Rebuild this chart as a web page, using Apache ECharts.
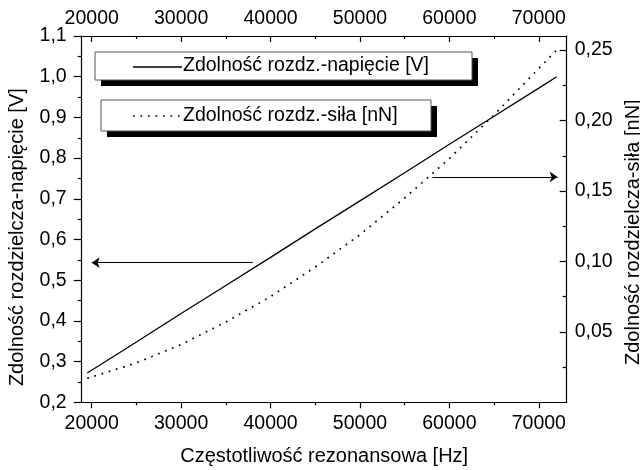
<!DOCTYPE html>
<html>
<head>
<meta charset="utf-8">
<script src="https://cdn.jsdelivr.net/npm/echarts@6/dist/echarts.min.js"></script>
<style>
  html, body { margin: 0; padding: 0; background: #fff; }
  #chart { width: 640px; height: 470px; }
</style>
</head>
<body>
<div id="chart"></div>
<script>
// Resonant frequency [Hz]
const freq = [19500, 25000, 30000, 35000, 40000, 45000, 50000, 55000, 60000, 65000, 70000, 72000];
// Resolution expressed as voltage [V] (left axis)
const voltage = [0.272, 0.348, 0.418, 0.487, 0.556, 0.626, 0.695, 0.764, 0.834, 0.903, 0.972, 1.000];
// Resolution expressed as force [nN] (right axis)
const force = [0.017, 0.028, 0.041, 0.057, 0.075, 0.096, 0.119, 0.145, 0.173, 0.204, 0.237, 0.250];

// Axis ranges and tick positions
const freqRange = [18880, 73120];
const freqTicks = [20000, 30000, 40000, 50000, 60000, 70000];
const freqMinorTicks = [25000, 35000, 45000, 55000, 65000];
const voltRange = [0.2, 1.1];
const voltTicks = [0.2, 0.3, 0.4, 0.5, 0.6, 0.7, 0.8, 0.9, 1.0, 1.1];
const voltMinorTicks = [0.25, 0.35, 0.45, 0.55, 0.65, 0.75, 0.85, 0.95, 1.05];
const forceRange = [0, 0.26];
const forceTicks = [0.05, 0.10, 0.15, 0.20, 0.25];
const forceMinorTicks = [0.025, 0.075, 0.125, 0.175, 0.225];

// Arrows pointing each curve to its axis
const voltArrow = { from: [38000, 0.543], to: [20000, 0.543] };
const forceArrow = { from: [58100, 0.160], to: [72100, 0.160] };

const nameV = 'Zdolność rozdz.-napięcie [V]';
const nameF = 'Zdolność rozdz.-siła [nN]';

const FONT = 'Liberation Sans, Arial, Helvetica, sans-serif';
const FS = 19.5;
const black = '#000';

function pairs(xs, ys) { return xs.map((x, i) => [x, ys[i]]); }
const comma = d => v => v.toFixed(d).replace('.', ',');
const plain = v => String(Math.round(v));

function xAxisDef(position, ticks, len, inside, withLabels, margin) {
  return {
    type: 'value', position, min: freqRange[0], max: freqRange[1],
    splitLine: { show: false },
    axisLine: { show: withLabels, onZero: false, lineStyle: { color: black, width: 1.2 } },
    axisTick: { show: true, inside, length: len, customValues: ticks, lineStyle: { color: black, width: 1.2 } },
    axisLabel: withLabels ? {
      show: true, customValues: ticks, margin, color: black, fontFamily: FONT, fontSize: FS,
      formatter: plain
    } : { show: false }
  };
}

function yAxisDef(position, range, ticks, len, inside, withLabels, margin, digits) {
  return {
    type: 'value', position, min: range[0], max: range[1],
    splitLine: { show: false },
    axisLine: { show: withLabels, onZero: false, lineStyle: { color: black, width: 1.2 } },
    axisTick: { show: true, inside, length: len, customValues: ticks, lineStyle: { color: black, width: 1.2 } },
    axisLabel: withLabels ? {
      show: true, customValues: ticks, margin, color: black, fontFamily: FONT, fontSize: FS,
      formatter: comma(digits)
    } : { show: false }
  };
}

const xBottom = xAxisDef('bottom', freqTicks, 6, false, true, 11);
xBottom.name = 'Częstotliwość rezonansowa [Hz]';
xBottom.nameLocation = 'middle';
xBottom.nameGap = 44;
xBottom.nameTextStyle = { color: black, fontFamily: FONT, fontSize: 20 };

const yLeft = yAxisDef('left', voltRange, voltTicks, 8, false, true, 15, 1);
yLeft.name = 'Zdolność rozdzielcza-napięcie [V]';
yLeft.nameLocation = 'middle';
yLeft.nameGap = 54;
yLeft.nameTextStyle = { color: black, fontFamily: FONT, fontSize: 20, padding: [0, 36, 0, 0] };

const yRight = yAxisDef('right', forceRange, forceTicks, 7, true, true, 8, 2);
yRight.name = 'Zdolność rozdzielcza-siła [nN]';
yRight.nameLocation = 'middle';
yRight.nameGap = 52;
yRight.nameRotate = 90;
yRight.nameTextStyle = { color: black, fontFamily: FONT, fontSize: 20, padding: [0, 26, 0, 0] };

const option = {
  animation: false,
  backgroundColor: '#fff',
  grid: { left: 81.7, right: 73.3, top: 36, bottom: 67.7, containLabel: false, outerBoundsMode: 'none' },
  xAxis: [
    xBottom,
    xAxisDef('bottom', freqMinorTicks, 3, false, false),
    xAxisDef('top', freqTicks, 6, true, true, 7),
    xAxisDef('top', freqMinorTicks, 3, true, false)
  ],
  yAxis: [
    yLeft,
    yAxisDef('left', voltRange, voltMinorTicks, 4, false, false),
    yRight,
    yAxisDef('right', forceRange, forceMinorTicks, 4, true, false)
  ],
  series: [
    {
      name: nameV, type: 'line', xAxisIndex: 0, yAxisIndex: 0,
      data: pairs(freq, voltage), showSymbol: false, symbol: 'none',
      lineStyle: { color: black, width: 1.3, type: 'solid' },
      markLine: {
        silent: true, symbol: ['none', 'arrow'], symbolSize: 8,
        label: { show: false },
        lineStyle: { color: black, width: 1, type: 'solid' },
        data: [[{ coord: voltArrow.from }, { coord: voltArrow.to }]]
      }
    },
    {
      name: nameF, type: 'line', xAxisIndex: 0, yAxisIndex: 2,
      data: pairs(freq, force), showSymbol: false, symbol: 'none',
      lineStyle: { color: black, width: 1.7, type: [1.7, 5.8], cap: 'butt' },
      markLine: {
        silent: true, symbol: ['none', 'arrow'], symbolSize: 8,
        label: { show: false },
        lineStyle: { color: black, width: 1, type: 'solid' },
        data: [[{ coord: forceArrow.from }, { coord: forceArrow.to }]]
      }
    }
  ],
  graphic: [
    // first legend box with drop shadow
    { type: 'rect', shape: { x: 101, y: 58, width: 377, height: 28 }, style: { fill: black } },
    { type: 'rect', shape: { x: 95, y: 52, width: 377, height: 28 }, style: { fill: '#fff', stroke: '#555', lineWidth: 1 } },
    { type: 'line', shape: { x1: 133, y1: 67, x2: 182, y2: 67 }, style: { stroke: black, lineWidth: 1.3 } },
    { type: 'text', x: 183, y: 66, style: { text: nameV, fill: black, font: FS + 'px ' + FONT, verticalAlign: 'middle' } },
    // second legend box with drop shadow
    { type: 'rect', shape: { x: 107, y: 106, width: 330, height: 31 }, style: { fill: black } },
    { type: 'rect', shape: { x: 101, y: 100, width: 330, height: 31 }, style: { fill: '#fff', stroke: '#555', lineWidth: 1 } },
    { type: 'line', shape: { x1: 133, y1: 116, x2: 181, y2: 116 }, style: { stroke: black, lineWidth: 1.7, lineDash: [1.7, 5.8] } },
    { type: 'text', x: 183, y: 116, style: { text: nameF, fill: black, font: FS + 'px ' + FONT, verticalAlign: 'middle' } }
  ]
};

const chart = echarts.init(document.getElementById('chart'), null, { renderer: 'canvas' });
chart.setOption(option);
</script>
</body>
</html>
